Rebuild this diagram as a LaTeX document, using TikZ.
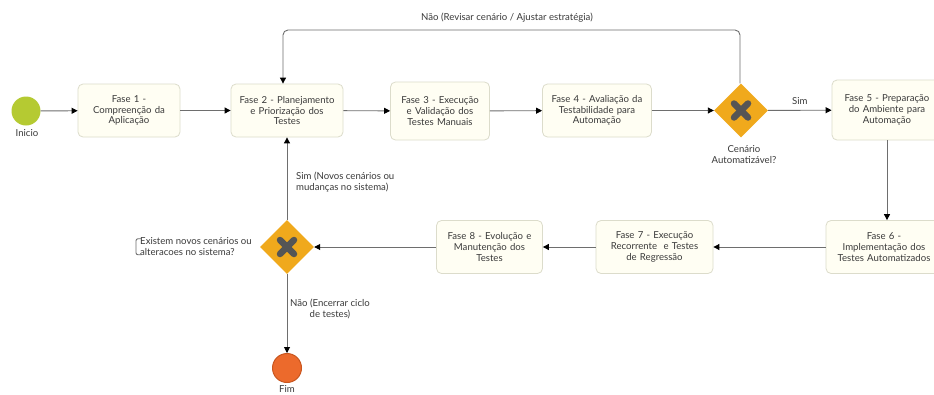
\documentclass[tikz,border=0pt]{standalone}
\usepackage{fontspec}
\setmainfont{Lato}
\usetikzlibrary{shapes.geometric,arrows.meta}
\definecolor{boxfill}{HTML}{FFFEF3}
\definecolor{boxline}{HTML}{DCDCCB}
\definecolor{txt}{HTML}{3A3A3A}
\definecolor{conn}{HTML}{6E6E6E}
\definecolor{startc}{HTML}{B5CA32}
\definecolor{endc}{HTML}{EC6A2C}
\definecolor{endl}{HTML}{C9561F}
\definecolor{gatec}{HTML}{F0A91C}
\definecolor{xc}{HTML}{555555}
\tikzset{
  phase/.style={draw=boxline, fill=boxfill, rounded corners=5pt, line width=0.8pt,
    align=center, text=txt, inner sep=1pt, font=\fontsize{9.6}{10.8}\selectfont},
  gate/.style={diamond, fill=gatec, minimum width=54pt, minimum height=54pt, inner sep=0pt},
  conn/.style={draw=conn, line width=0.9pt, -{Triangle[length=6pt,width=6pt,fill=black,color=black]}},
  lbl/.style={text=txt, font=\fontsize{9.6}{11}\selectfont, align=center, inner sep=0pt},
  xmark/.style={draw=xc, line width=6.5pt, line cap=round}
}
\begin{document}
\begin{tikzpicture}[x=1pt,y=-1pt]
\useasboundingbox[fill=white] (0,0) rectangle (934,394);
% events
\node[circle, fill=startc, minimum size=29pt, inner sep=0pt] (start) at (26,111) {};
\node[lbl] (startl) at (27,133) {Inicio};
\node[circle, fill=endc, draw=endl, line width=1pt, minimum size=29pt, inner sep=0pt] (fim) at (287,368) {};
\node[lbl] (fiml) at (287,389) {Fim};
% phases
\node[phase, minimum width=102pt, minimum height=53pt, text width=100pt] (f1) at (129,110.5) {Fase 1 -\\Compreenção da\\Aplicação};
\node[phase, minimum width=112pt, minimum height=53pt, text width=110pt] (f2) at (287,110.5) {Fase 2 - Planejamento\\e Priorização dos\\Testes};
\node[phase, minimum width=99pt, minimum height=58pt, text width=97pt] (f3) at (440,111) {Fase 3 - Execução\\e Validação dos\\Testes Manuais};
\node[phase, minimum width=109pt, minimum height=53pt, text width=107pt] (f4) at (597,110.5) {Fase 4 - Avaliação da\\Testabilidade para\\Automação};
\node[phase, minimum width=110pt, minimum height=60pt, text width=108pt] (f5) at (887,110) {Fase 5 - Preparação\\do Ambiente para\\Automação};
\node[phase, minimum width=116pt, minimum height=53pt, text width=114pt] (f6) at (884,247) {Fase 6 -\\Implementação dos\\Testes Automatizados};
\node[phase, minimum width=117pt, minimum height=53pt, text width=115pt] (f7) at (654.5,247) {Fase 7 - Execução\\Recorrente~ e Testes\\de Regressão};
\node[phase, minimum width=106pt, minimum height=53pt, text width=104pt] (f8) at (489.5,247) {Fase 8 - Evolução e\\Manutenção dos\\Testes};
% gateways
\node[gate] (g1) at (741,110.5) {};
\draw[xmark] ([xshift=-7pt,yshift=-7pt]g1.center) -- ([xshift=7pt,yshift=7pt]g1.center);
\draw[xmark] ([xshift=-7pt,yshift=7pt]g1.center) -- ([xshift=7pt,yshift=-7pt]g1.center);
\node[lbl] (g1l) at (744,155) {Cenário\\Automatizável?};
\node[gate] (g2) at (287,247) {};
\draw[xmark] ([xshift=-7pt,yshift=-7pt]g2.center) -- ([xshift=7pt,yshift=7pt]g2.center);
\draw[xmark] ([xshift=-7pt,yshift=7pt]g2.center) -- ([xshift=7pt,yshift=-7pt]g2.center);
\node[lbl, align=left, anchor=west] (g2l) at (140,247) {Existem novos cenários ou\\alteracoes no sistema?};
\draw[draw=conn, line width=0.9pt, rounded corners=2pt] ([xshift=1pt,yshift=-1pt]g2l.north west) -- ([xshift=-4pt,yshift=-1pt]g2l.north west) -- ([xshift=-4pt,yshift=1.5pt]g2l.south west) -- ([xshift=1pt,yshift=1.5pt]g2l.south west);
% connectors
\draw[conn] (start) -- (f1);
\draw[conn] (f1) -- (f2);
\draw[conn] (f2) -- (f3);
\draw[conn] (f3) -- (f4);
\draw[conn] (f4) -- (g1);
\draw[conn] (g1) -- node[lbl, above=5pt] (siml) {Sim} (f5);
\coordinate (lr) at (740,30);
\coordinate (ll) at (283,30);
\draw[conn, rounded corners=5pt] (g1.north -| lr) -- (lr) -- (ll) -- (ll |- f2.north);
\node[lbl] (naol) at (507,18) {Não (Revisar cenário / Ajustar estratégia)};
\draw[conn] (f5.south -| 887,0) -- (887,0 |- f6.north);
\draw[conn] (f6) -- (f7);
\draw[conn] (f7) -- (f8);
\draw[conn] (f8) -- (g2);
\draw[conn] (g2) -- (f2);
\node[lbl, align=left, anchor=west] (simnl) at (296,182) {Sim (Novos cenários ou\\mudanças no sistema)};
\draw[conn] (g2) -- (fim);
\node[lbl] (naoel) at (330,309) {Não (Encerrar ciclo\\de testes)};
\end{tikzpicture}
\end{document}
